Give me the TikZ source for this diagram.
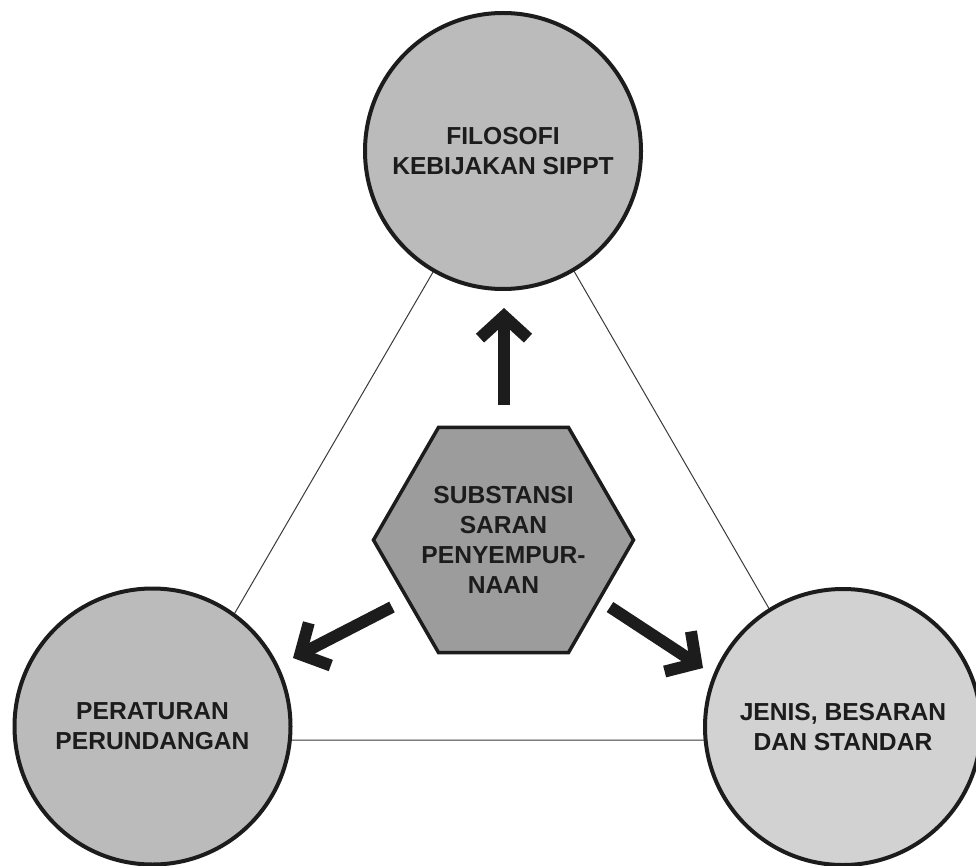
\documentclass[tikz,border=0pt]{standalone}
\usepackage{fontspec}
\setmainfont{Liberation Sans}
\usetikzlibrary{arrows.meta}
\definecolor{ink}{HTML}{1C1C1C}
\definecolor{topfill}{HTML}{BBBBBB}
\definecolor{leftfill}{HTML}{BBBBBB}
\definecolor{rightfill}{HTML}{D2D2D2}
\definecolor{hexfill}{HTML}{9C9C9C}
\definecolor{edgecol}{HTML}{3A3A3A}
\begin{document}
\begin{tikzpicture}[x=1pt,y=-1pt,
  lbl/.style={font=\fontsize{24.6}{30}\selectfont\bfseries, text=ink, align=center},
  bubble/.style={circle, draw=ink, line width=4pt, minimum size=276pt, inner sep=0pt, lbl},
  tri/.style={draw=edgecol, line width=1pt},
  bigarrow/.style={draw=ink, line width=12pt, line cap=butt, -{Straight Barb[length=22pt,width=48pt]}}
]
\useasboundingbox (0,0) rectangle (976,866);
\clip (0,0) rectangle (976,866);
% triangle behind the circles
\coordinate (tA) at (504,150);
\coordinate (tB) at (161,740);
\coordinate (tC) at (845,740);
\draw[tri] (tA) -- (tB) -- (tC) -- cycle;
% circles
\node[bubble, fill=topfill] (top) at (503,151) {FILOSOFI\\KEBIJAKAN SIPPT};
\node[bubble, fill=leftfill] (left) at (152.5,726.5) {PERATURAN\\PERUNDANGAN};
\node[bubble, fill=rightfill] (right) at (843,727) {JENIS, BESARAN\\DAN STANDAR};
% hexagon
\coordinate (hx) at (503.5,540);
\draw[fill=hexfill, draw=ink, line width=3.5pt, line join=miter]
  (hx) +(0:130) -- +(60:130) -- +(120:130) -- +(180:130) -- +(240:130) -- +(300:130) -- cycle;
\node[lbl] (hex) at (hx) {SUBSTANSI\\SARAN\\PENYEMPUR-\\NAAN};
% arrows
\coordinate (upS) at (504,405);
\coordinate (upE) at (504,308);
\coordinate (lfS) at (392,607);
\coordinate (lfE) at (293,658);
\coordinate (rtS) at (610,607);
\coordinate (rtE) at (703,668);
\draw[bigarrow] (upS) -- (upE);
\draw[bigarrow] (lfS) -- (lfE);
\draw[bigarrow] (rtS) -- (rtE);
\end{tikzpicture}
\end{document}
